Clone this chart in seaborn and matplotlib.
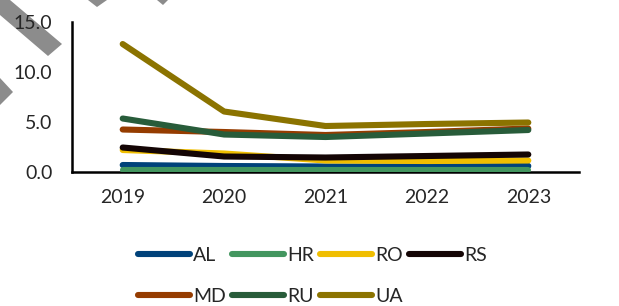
import pandas as pd
import matplotlib
matplotlib.use("Agg")
import matplotlib.pyplot as plt
from matplotlib.lines import Line2D
from matplotlib.patches import Polygon
import seaborn as sns

years = ["2019", "2020", "2021", "2022", "2023"]
AL = [0.7, 0.6, 0.55, 0.55, 0.6]
HR = [0.2, 0.2, 0.2, 0.2, 0.2]
RO = [2.2, 1.85, 1.15, 1.1, 1.15]
RS = [2.45, 1.55, 1.45, 1.6, 1.75]
MD = [4.25, 4.0, 3.7, 4.0, 4.35]
RU = [5.35, 3.75, 3.5, 3.85, 4.2]
UA = [12.8, 6.05, 4.6, 4.8, 4.95]

series = {"AL": AL, "HR": HR, "RO": RO, "RS": RS, "MD": MD, "RU": RU, "UA": UA}
colors = {"AL": "#00427A", "HR": "#43965F", "RO": "#F0BE00", "RS": "#140505",
          "MD": "#953C00", "RU": "#285C3A", "UA": "#8B7300"}

rows = []
for name, vals in series.items():
    for i, v in enumerate(vals):
        rows.append({"country": name, "x": i, "value": v})
df = pd.DataFrame(rows)

sns.set_style("white")
plt.rcParams["font.family"] = ["Lato", "DejaVu Sans"]

fig = plt.figure(figsize=(6.19, 3.06), dpi=100)
ax = fig.add_axes([0.1163, 0.4379, 0.8191, 0.4901])
ax.patch.set_alpha(0)

sns.lineplot(data=df, x="x", y="value", hue="country", palette=colors,
             hue_order=list(series.keys()), linewidth=4.4, legend=False, ax=ax,
             solid_capstyle="round")

ax.set_xlim(-0.5, 4.5)
ax.set_ylim(0, 15)
ax.set_yticks([0, 5, 10, 15])
ax.set_yticklabels(["0.0", "5.0", "10.0", "15.0"])
ax.set_xticks([i - 0.5 for i in range(6)])
ax.set_xticklabels([])
ax.set_xticks(range(5), minor=True)
ax.set_xticklabels(years, minor=True)
ax.tick_params(axis="x", which="major", direction="out", length=5, width=1.5, color="black")
ax.tick_params(axis="x", which="minor", length=0, pad=12, labelsize=14)
ax.tick_params(axis="y", direction="out", length=5, width=1.5, color="black", pad=9, labelsize=14)
ax.set_xlabel("")
ax.set_ylabel("")
for s in ["top", "right"]:
    ax.spines[s].set_visible(False)
for s in ["left", "bottom"]:
    ax.spines[s].set_color("black")
    ax.spines[s].set_linewidth(1.8)
ax.spines["bottom"].set_zorder(0)

# matplotlib fills legend columns first, so interleave to get row order
order = ["AL", "MD", "HR", "RU", "RO", "UA", "RS"]
handles = [Line2D([0], [0], color=colors[k], lw=4.4, solid_capstyle="round") for k in order]
ax.legend(handles, order, loc="upper center", bbox_to_anchor=(0.474, -0.45),
          ncol=4, frameon=False, fontsize=14, handlelength=2.7, handletextpad=0.15,
          columnspacing=0.3, labelspacing=1.2, borderaxespad=0)

# grey watermark stripes in the top-left corner
W, H = 619, 306
shapes = [
    [(0, 0), (10, 0), (62, 44), (48, 56), (0, 15)],
    [(88, 0), (107, 0), (97, 7)],
    [(157, 0), (168, 0), (163, 5)],
    [(0, 78), (13, 92), (0, 105)],
]
for pts in shapes:
    fig.patches.append(Polygon([(x / W, 1 - y / H) for x, y in pts], closed=True,
                               transform=fig.transFigure, facecolor="#8C8C8C",
                               edgecolor="none", zorder=-1))

fig.savefig("out.png", dpi=100)
